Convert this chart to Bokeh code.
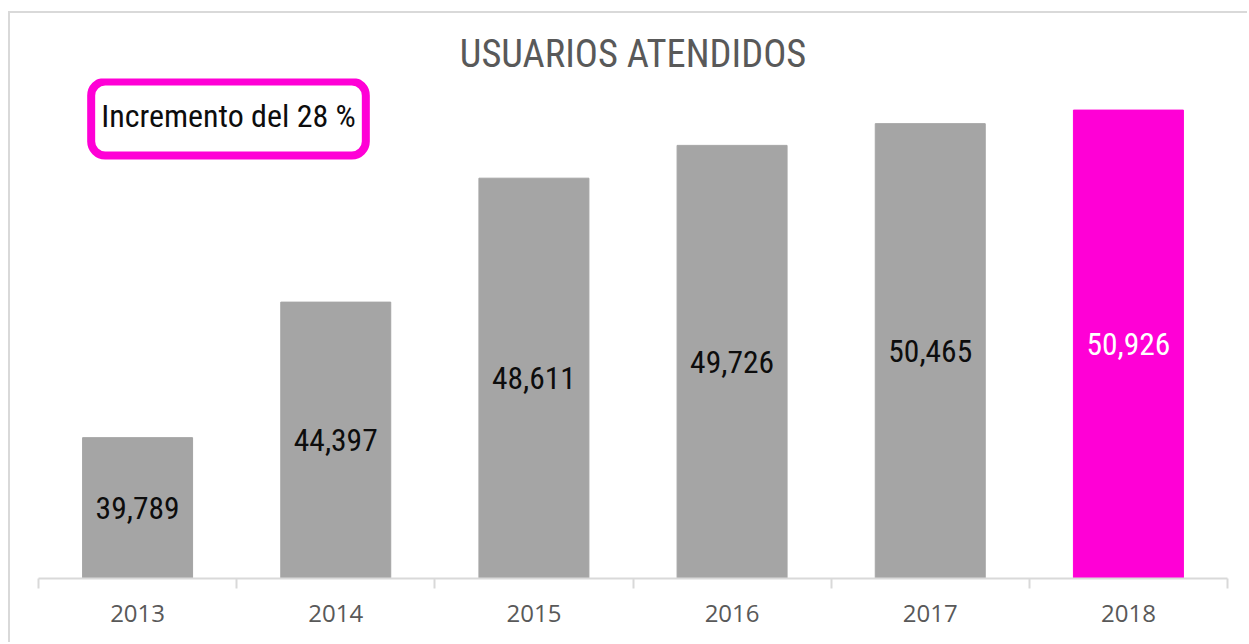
from bokeh.plotting import figure
from bokeh.models import (ColumnDataSource, Range1d, LinearAxis, FixedTicker, Label)
from bokeh.embed import file_html
from bokeh.resources import INLINE

# ---- data ----
years = ["2013", "2014", "2015", "2016", "2017", "2018"]
usuarios = [39789, 44397, 48611, 49726, 50465, 50926]
bar_colors = ["#a5a5a5", "#a5a5a5", "#a5a5a5", "#a5a5a5", "#a5a5a5", "#ff00d6"]
label_colors = ["#0d0d0d", "#0d0d0d", "#0d0d0d", "#0d0d0d", "#0d0d0d", "#ffffff"]
title_text = "USUARIOS ATENDIDOS"
note_text = "Incremento del 28 %"
y_start, y_end = 35000, 52000

NARROW = "'Roboto Condensed', 'Liberation Sans Narrow', 'Arial Narrow', 'DejaVu Sans Condensed', Roboto, sans-serif"

n = len(years)
idx = list(range(n))
labels = [f"{v:,}" for v in usuarios]
mid = [(y_start + v) / 2 for v in usuarios]
source = ColumnDataSource(dict(x=idx, year=years, top=usuarios, color=bar_colors,
                               lab=labels, mid=mid, lc=label_colors))

p = figure(x_range=Range1d(-0.5, n - 0.5), y_range=Range1d(y_start, y_end),
           width=1239, height=631, output_backend="svg", toolbar_location=None,
           x_axis_location=None, y_axis_location=None,
           min_border_left=28, min_border_right=22, min_border_top=65, min_border_bottom=66)
p.styles = {"border-top": "2px solid #d9d9d9", "border-left": "2px solid #d9d9d9",
            "margin-top": "11px", "margin-left": "8px"}
p.outline_line_color = None
p.xgrid.grid_line_color = None
p.ygrid.grid_line_color = None

p.vbar(x="x", top="top", bottom=y_start, width=0.555, color="color", source=source)
p.text(x="x", y="mid", text="lab", text_color="lc", source=source,
       text_align="center", text_baseline="middle", text_font_size="31.5px",
       text_font={"value": NARROW})

# axis: year labels at category centres, tick marks at category edges
ax = LinearAxis(ticker=FixedTicker(ticks=idx, minor_ticks=[i - 0.5 for i in range(n + 1)]),
                major_label_overrides={i: y for i, y in zip(idx, years)})
ax.axis_line_color = "#d9d9d9"
ax.axis_line_width = 2
ax.major_tick_line_color = None
ax.minor_tick_line_color = "#d9d9d9"
ax.minor_tick_line_width = 2
ax.minor_tick_out = 10
ax.minor_tick_in = 0
ax.major_tick_out = 0
ax.major_tick_in = 0
ax.major_label_standoff = 16
ax.major_label_text_font = "Open Sans"
ax.major_label_text_font_size = "24px"
ax.major_label_text_color = "#595959"
p.add_layout(ax, "below")

p.title.text = title_text
p.title.align = "center"
p.title.text_font = NARROW
p.title.text_font_size = "38.5px"
p.title.text_font_style = "normal"
p.title.text_color = "#595959"
p.title.standoff = 5

note = Label(x=190, y=460, x_units="screen", y_units="screen", text=note_text,
             text_align="center", text_baseline="middle", text_font=NARROW,
             text_font_size="32px", text_color="#0d0d0d",
             background_fill_color="white", border_line_color="#ff00d6",
             border_line_width=8, border_radius=14,
             padding=dict(left=10, right=10, top=15, bottom=21))
p.add_layout(note)

open("out.html", "w").write(file_html(p, INLINE))
